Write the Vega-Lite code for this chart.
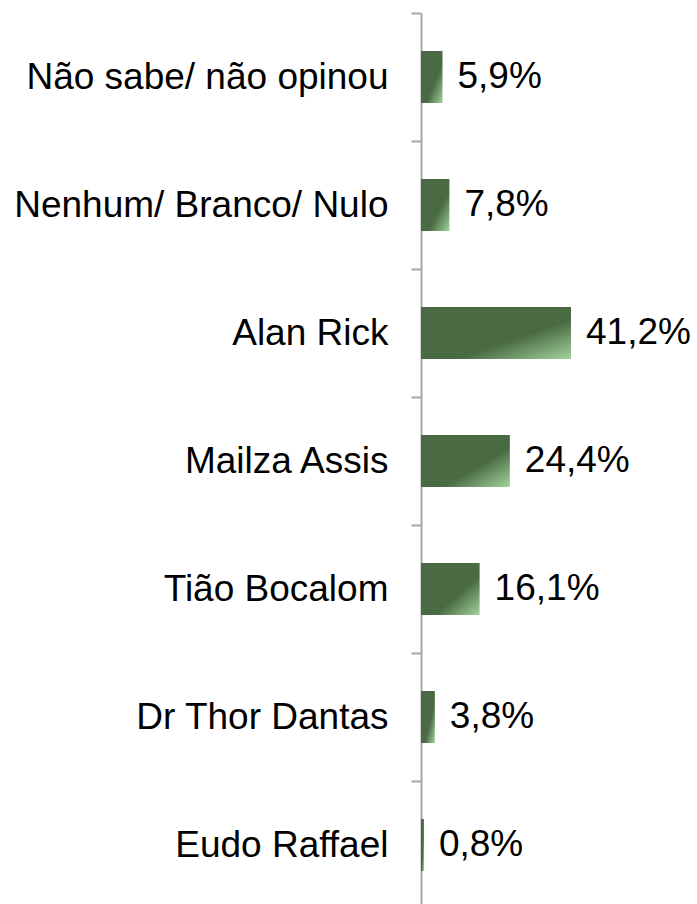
{
  "$schema": "https://vega.github.io/schema/vega-lite/v6.json",
  "autosize": {"type": "none"},
  "padding": {"left": 421, "top": 13, "right": 0, "bottom": 0},
  "width": 276,
  "height": 896,
  "background": "white",
  "config": {
    "view": {"stroke": null},
    "locale": {"number": {"decimal": ",", "thousands": ".", "grouping": [3], "currency": ["R$", ""]}},
    "font": "Liberation Sans"
  },
  "data": {
    "values": [
      {"cat": "Não sabe/ não opinou", "value": 0.059},
      {"cat": "Nenhum/ Branco/ Nulo", "value": 0.078},
      {"cat": "Alan Rick", "value": 0.412},
      {"cat": "Mailza Assis", "value": 0.244},
      {"cat": "Tião Bocalom", "value": 0.161},
      {"cat": "Dr Thor Dantas", "value": 0.038},
      {"cat": "Eudo Raffael", "value": 0.008}
    ]
  },
  "encoding": {
    "y": {
      "field": "cat",
      "type": "nominal",
      "sort": null,
      "scale": {"paddingInner": 0.594, "paddingOuter": 0.297},
      "axis": {
        "title": null,
        "domainColor": "#A3A8AE",
        "domainWidth": 2,
        "tickColor": "#A3A8AE",
        "tickWidth": 2,
        "tickSize": 10,
        "bandPosition": 0,
        "tickOffset": -38,
        "labelOffset": 38,
        "labelFont": "Liberation Sans",
        "labelFontSize": 37,
        "labelColor": "#000000",
        "labelPadding": 23,
        "labelLimit": 0
      }
    },
    "x": {
      "field": "value",
      "type": "quantitative",
      "scale": {"domain": [0, 0.758], "nice": false, "zero": true},
      "axis": null
    }
  },
  "layer": [
    {
      "mark": {
        "type": "bar",
        "fill": {
          "gradient": "linear",
          "x1": 0, "y1": 0, "x2": 1, "y2": 1,
          "stops": [
            {"offset": 0, "color": "#4A6A44"},
            {"offset": 0.62, "color": "#4A6A44"},
            {"offset": 1, "color": "#A2D39C"}
          ]
        }
      }
    },
    {
      "mark": {
        "type": "text",
        "align": "left",
        "baseline": "middle",
        "dx": 15,
        "fontSize": 37,
        "font": "Liberation Sans",
        "color": "#000000"
      },
      "encoding": {
        "text": {"field": "value", "type": "quantitative", "format": ".1%"}
      }
    }
  ]
}
